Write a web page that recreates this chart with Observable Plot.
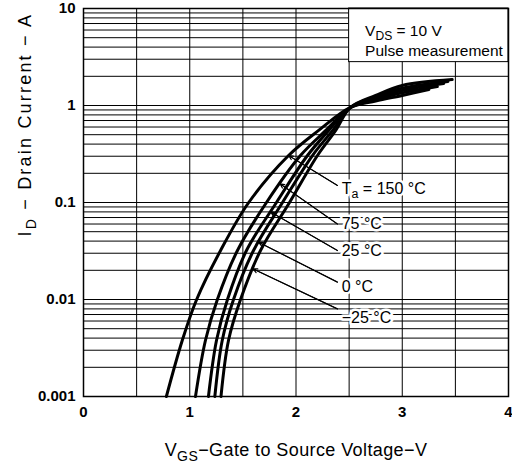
<!DOCTYPE html>
<html><head><meta charset="utf-8">
<script src="https://cdn.jsdelivr.net/npm/d3@7"></script>
<script src="https://cdn.jsdelivr.net/npm/@observablehq/plot@0.6"></script>
<style>
html,body{margin:0;padding:0;background:#fff;}
</style></head><body><div id="chart"></div>
<script>
// Temperature series (Ta)
const temps = ["150", "75", "25", "0", "−25"];
// VGS (V) / ID (A)
const vgs150 = [0.78, 0.93, 1.065, 1.29, 1.555, 1.93, 2.21, 2.513, 2.75, 3.0, 3.25];
const id150  = [0.001, 0.0038, 0.01, 0.032, 0.1, 0.305, 0.55, 0.955, 1.11, 1.27, 1.46];
const vgs75  = [1.054, 1.148, 1.26, 1.449, 1.722, 2.042, 2.278, 2.513, 2.75, 3.0, 3.33];
const id75   = [0.001, 0.0038, 0.01, 0.032, 0.1, 0.305, 0.55, 0.955, 1.15, 1.35, 1.57];
const vgs25  = [1.176, 1.252, 1.355, 1.534, 1.816, 2.108, 2.306, 2.513, 2.75, 3.0, 3.39];
const id25   = [0.001, 0.0038, 0.01, 0.032, 0.1, 0.305, 0.55, 0.955, 1.19, 1.43, 1.69];
const vgs0   = [1.236, 1.306, 1.412, 1.6, 1.873, 2.155, 2.343, 2.513, 2.75, 3.0, 3.43];
const id0    = [0.001, 0.0038, 0.01, 0.032, 0.1, 0.305, 0.55, 0.955, 1.24, 1.51, 1.77];
const vgsM25 = [1.294, 1.365, 1.478, 1.666, 1.939, 2.202, 2.372, 2.513, 2.75, 3.0, 3.47];
const idM25  = [0.001, 0.0038, 0.01, 0.032, 0.1, 0.305, 0.55, 0.955, 1.27, 1.61, 1.85];

// Axis ticks
const xTicks = [0, 1, 2, 3, 4];
const xTickLabels = ["0", "1", "2", "3", "4"];
const yTicks = [0.001, 0.01, 0.1, 1, 10];
const yTickLabels = ["0.001", "0.01", "0.1", "1", "10"];

// Texts
const tempLabels = ["T_{a} = 150 °C", "75 °C", "25 °C", "0 °C", "−25 °C"];
const condLines = ["V_{DS} = 10 V", "Pulse measurement"];
const xLabel = "V_{GS}−Gate to Source Voltage−V";
const yLabel = "I_{D} − Drain Current − A";

// Annotation anchors (data units)
const labelId  = [0.139, 0.0607, 0.032, 0.0136, 0.0064];
const leaderId = [0.15, 0.06, 0.032, 0.0151, 0.008];
const tipId    = [0.305, 0.156, 0.08, 0.039, 0.0207];
const labelVgs = 2.43, leaderVgs = 2.39;
const condVgs = 2.65, condId = [5.9, 3.65];
const boxVgs = [2.5, 4], boxId = [2.8, 10];

const seriesV = [vgs150, vgs75, vgs25, vgs0, vgsM25];
const seriesI = [id150, id75, id25, id0, idM25];
const rows = [];
temps.forEach((t, k) => seriesV[k].forEach((v, i) => rows.push({temp: t, vgs: v, id: seriesI[k][i]})));

// x on curve k at current y (log-linear interpolation of the read points)
function vgsAt(k, y) {
  const V = seriesV[k], I = seriesI[k];
  for (let i = 0; i < I.length - 1; i++) {
    if (y >= I[i] && y <= I[i + 1]) {
      const f = (Math.log(y) - Math.log(I[i])) / (Math.log(I[i + 1]) - Math.log(I[i]));
      return V[i] + f * (V[i + 1] - V[i]);
    }
  }
  return V[0];
}
const leaders = temps.map((t, k) => ({x1: leaderVgs, y1: leaderId[k], x2: vgsAt(k, tipId[k]), y2: tipId[k]}));
const labels = temps.map((t, k) => ({x: labelVgs, y: labelId[k], text: tempLabels[k]}));

const yGrid = d3.scaleLog().domain([0.001, 10]).ticks().filter(d => d > 0.001 && d < 10);
const xGrid = d3.range(0.5, 4, 0.5);

const font = "Liberation Sans, Arial, Helvetica, sans-serif";
const yFmt = d => {
  let best = 0;
  yTicks.forEach((t, i) => { if (Math.abs(Math.log10(t) - Math.log10(d)) < Math.abs(Math.log10(yTicks[best]) - Math.log10(d))) best = i; });
  return yTickLabels[best];
};
const xFmt = d => xTickLabels[xTicks.indexOf(d)];

const chart = Plot.plot({
  width: 512, height: 470,
  marginLeft: 83, marginRight: 4, marginTop: 8, marginBottom: 74,
  x: {domain: [0, 4]},
  y: {type: "log", domain: [0.001, 10]},
  style: {fontFamily: font, background: "white", color: "black", overflow: "visible"},
  marks: [
    Plot.ruleY(yGrid, {stroke: "black", strokeWidth: 1}),
    Plot.ruleX(xGrid, {stroke: "black", strokeWidth: 1}),
    Plot.rect([0], {x1: boxVgs[0], x2: boxVgs[1], y1: boxId[0], y2: boxId[1], fill: "white", stroke: "black", strokeWidth: 1}),
    Plot.line(rows, {x: "vgs", y: "id", z: "temp", stroke: "black", strokeWidth: 3, curve: "catmull-rom"}),
    Plot.link(leaders, {x1: "x1", y1: "y1", x2: "x2", y2: "y2", stroke: "black", strokeWidth: 1}),
    Plot.arrow(leaders, {x1: "x1", y1: "y1", x2: "x2", y2: "y2", stroke: "black", strokeWidth: 1.2, headLength: 6, headAngle: 50}),
    Plot.text(labels, {x: "x", y: "y", text: "text", textAnchor: "start", fontSize: 16, fill: "black", stroke: "white", strokeWidth: 5}),
    Plot.text(condLines, {x: condVgs, y: (d, i) => condId[i], text: d => d, textAnchor: "start", fontSize: 15.5, fill: "black"}),
    Plot.frame({stroke: "black", strokeWidth: 1.5}),
    Plot.axisX(xTicks, {tickSize: 0, tickPadding: 10, fontSize: 15, fontWeight: "bold", tickFormat: xFmt, label: null}),
    Plot.axisY(yTicks, {tickSize: 0, tickPadding: 8, fontSize: 15, fontWeight: "bold", tickFormat: yFmt, label: null}),
    Plot.text([xLabel], {frameAnchor: "bottom", dy: 59, fontSize: 18, fill: "black"}),
    Plot.text([yLabel], {frameAnchor: "left", dx: -58, dy: 34, rotate: -90, fontSize: 18, fill: "black"})
  ]
});

// subscripts: "_{...}"
function applySubs(node) {
  const ns = "http://www.w3.org/2000/svg";
  d3.select(node).selectAll("text").each(function() {
    const el = this;
    const targets = el.querySelectorAll("tspan").length ? Array.from(el.querySelectorAll("tspan")) : [el];
    targets.forEach(t => {
      const s = t.textContent;
      if (!s.includes("_{")) return;
      const fs = parseFloat(getComputedStyle(t).fontSize) || 14;
      const shift = fs * 0.28;
      t.textContent = "";
      const parts = s.split(/(_\{[^}]*\})/);
      let sub = false;
      parts.forEach(p => {
        if (!p) return;
        const span = document.createElementNS(ns, "tspan");
        if (p.startsWith("_{")) {
          span.textContent = p.slice(2, -1);
          span.setAttribute("dy", shift);
          span.setAttribute("font-size", (fs * 0.78) + "px");
          sub = true;
        } else {
          span.textContent = p;
          if (sub) { span.setAttribute("dy", -shift); sub = false; }
        }
        t.appendChild(span);
      });
    });
  });
}
document.getElementById("chart").appendChild(chart);
applySubs(chart);
// spacing of the axis titles to match the reference lettering
d3.select(chart).selectAll("text").each(function() {
  const s = this.textContent;
  if (s.includes("Drain Current")) this.setAttribute("letter-spacing", "2.2");
  if (s.includes("Gate to Source")) this.setAttribute("letter-spacing", "0.4");
});
</script></body></html>
